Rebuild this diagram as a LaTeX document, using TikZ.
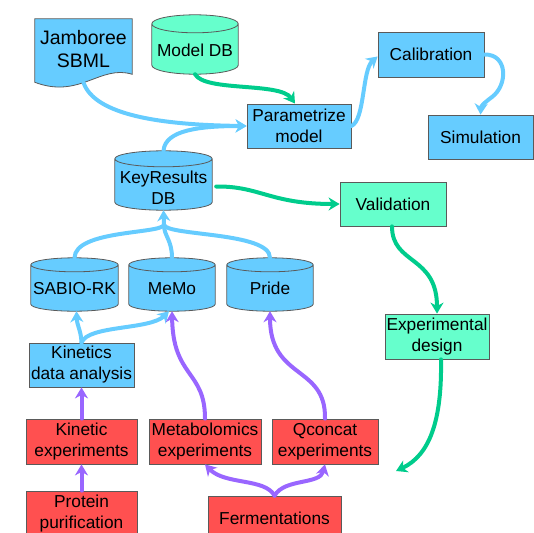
\documentclass[tikz,border=0pt]{standalone}
\usepackage{fontspec}
\setmainfont{Liberation Sans}
\usetikzlibrary{arrows.meta,calc,backgrounds}
\definecolor{nblue}{RGB}{102,204,255}
\definecolor{ngreen}{RGB}{102,255,204}
\definecolor{nred}{RGB}{255,80,80}
\definecolor{bord}{RGB}{90,90,90}
\definecolor{ablue}{RGB}{102,204,255}
\definecolor{agreen}{RGB}{0,204,140}
\definecolor{apurple}{RGB}{153,102,255}
\newcommand\dbcylinder[3]{%
  \path[draw=bord,line width=0.8pt,fill=#2] let \p1=(#1.north west), \p2=(#1.south east), \n1={(\x2-\x1)/2} in
    (\x1,\y1-#3) -- (\x1,\y2+#3) arc[start angle=180,end angle=360,x radius=\n1,y radius=#3]
    -- (\x2,\y1-#3) arc[start angle=0,end angle=180,x radius=\n1,y radius=#3] -- cycle
    (\x1,\y1-#3) arc[start angle=180,end angle=360,x radius=\n1,y radius=#3];
}
\begin{document}
\begin{tikzpicture}[x=1pt,y=-1pt,
  txt/.style={align=center, font=\fontsize{17.3}{21}\selectfont, inner sep=0pt, text=black},
  box/.style={txt, draw=bord, line width=0.8pt},
  bbox/.style={box, fill=nblue},
  gbox/.style={box, fill=ngreen},
  rbox/.style={box, fill=nred},
  cyl/.style={draw=none, inner sep=0pt},
  conn/.style={line width=4pt, line cap=round, -{Stealth[length=11pt,width=13pt,inset=3.5pt]}},
  bconn/.style={conn, draw=ablue},
  gconn/.style={conn, draw=agreen},
  pconn/.style={conn, draw=apurple},
  bline/.style={line width=4pt, line cap=round, draw=ablue}
]
\useasboundingbox (0,0) rectangle (534,532);
\clip (0,0) rectangle (534,532);

% nodes
\node[txt, font=\fontsize{19.5}{23}\selectfont, minimum width=97pt, minimum height=61pt] (jam) at (83.5,49) {Jamboree\\SBML};
\node[cyl, minimum width=86pt, minimum height=59pt,
  label={[name=modelt, txt, yshift=-5.5pt]center:{Model DB}}] (model) at (195,44.5) {};
\node[bbox, minimum width=104pt, minimum height=44pt] (param) at (299,126) {Parametrize\\model};
\node[bbox, minimum width=106pt, minimum height=45pt] (calib) at (431,54.5) {Calibration};
\node[bbox, minimum width=105pt, minimum height=44pt] (sim) at (480.5,137) {Simulation};
\node[gbox, minimum width=106pt, minimum height=44pt] (valid) at (393,204) {Validation};
\node[cyl, minimum width=97pt, minimum height=59pt,
  label={[name=keyrest, txt, yshift=-7pt]center:{KeyResults\\DB}}] (keyres) at (163.5,180.5) {};
\node[cyl, minimum width=87pt, minimum height=53pt,
  label={[name=sabiot, txt, yshift=-4pt]center:{SABIO-RK}}] (sabio) at (74.5,284.5) {};
\node[cyl, minimum width=86pt, minimum height=53pt,
  label={[name=memot, txt, yshift=-4pt]center:{MeMo}}] (memo) at (172,284.5) {};
\node[cyl, minimum width=86pt, minimum height=53pt,
  label={[name=pridet, txt, yshift=-4pt]center:{Pride}}] (pride) at (270,284.5) {};
\node[bbox, minimum width=105pt, minimum height=44pt] (kda) at (81.5,365) {Kinetics\\data analysis};
\node[gbox, minimum width=104pt, minimum height=45pt] (expd) at (437,336.5) {Experimental\\design};
\node[rbox, minimum width=111pt, minimum height=45pt] (kexp) at (81.5,441.5) {Kinetic\\experiments};
\node[rbox, minimum width=112pt, minimum height=45pt] (mexp) at (205,441.5) {Metabolomics\\experiments};
\node[rbox, minimum width=106pt, minimum height=45pt] (qexp) at (325,441.5) {Qconcat\\experiments};
\node[rbox, minimum width=111pt, minimum height=46pt] (prot) at (81.5,514) {Protein\\purification};
\node[rbox, minimum width=133pt, minimum height=44pt] (ferm) at (274.5,518) {Fermentations};

\begin{pgfonlayer}{background}
  \path[draw=bord,line width=0.8pt,fill=nblue] ($(jam.north west)+(0,0.5)$) -- ($(jam.north east)+(0,0.5)$)
    -- ($(jam.north east)+(0,56)$)
    .. controls ($(jam.north east)+(-32,46)$) and ($(jam.north west)+(45,81)$) .. ($(jam.north west)+(0,64)$)
    -- cycle;
  \dbcylinder{model}{ngreen}{9pt}
  \dbcylinder{keyres}{nblue}{8pt}
  \dbcylinder{sabio}{nblue}{7pt}
  \dbcylinder{memo}{nblue}{7pt}
  \dbcylinder{pride}{nblue}{7pt}
\end{pgfonlayer}

% connectors
\coordinate (kj) at (164,225);
\coordinate (gend) at (396,471);

\draw[bconn] ($(jam.south)+(0,3)$) .. controls (95,115) and (160,125) .. (param.west);
\draw[bconn] (keyres.north) .. controls (165,130) and (200,126) .. (param.west);
\draw[gconn] (model.south) .. controls (205,92) and (280,82) .. ($(param.north)+(-4,0)$);
\draw[bconn] (param.east) .. controls (365,120) and (362,70) .. ($(calib.west)+(0,2)$);
\draw[bconn] (calib.east) .. controls (508,54) and (508,85) .. (492,97)
  .. controls (484,103) and (481,106) .. (sim.north);
\draw[gconn] ($(keyres.east)+(4,6)$) .. controls (260,186) and (270,204) .. (valid.west);
\draw[gconn] ($(valid.south)+(-1,0)$) .. controls (392,265) and (437,255) .. (expd.north);
\draw[gconn] ($(expd.south)+(4,0)$) .. controls (442,420) and (430,455) .. (gend);

\draw[bline] (sabio.north) .. controls (75,230) and (160,234) .. (kj);
\draw[bline] (memo.north) .. controls (172,240) and (164,236) .. (kj);
\draw[bline] (pride.north) .. controls (270,232) and (168,236) .. (kj);
\draw[bconn] (kj) -- (keyres.south);

\draw[bconn] (kda.north) .. controls (81,330) and (77,326) .. ($(sabio.south)+(2,0)$);
\draw[bconn] (kda.north) .. controls (88,325) and (150,330) .. ($(memo.south)+(-3,0)$);

\draw[pconn] (kexp.north) -- (kda.south);
\draw[pconn] (prot.north) -- (kexp.south);
\draw[pconn] (mexp.north) .. controls (205,370) and (173,378) .. (memo.south);
\draw[pconn] (qexp.north) .. controls (326,365) and (270,380) .. (pride.south);
\draw[pconn] (ferm.north) .. controls (265,478) and (225,485) .. (mexp.south);
\draw[pconn] (ferm.north) .. controls (285,478) and (320,485) .. (qexp.south);
\end{tikzpicture}
\end{document}
